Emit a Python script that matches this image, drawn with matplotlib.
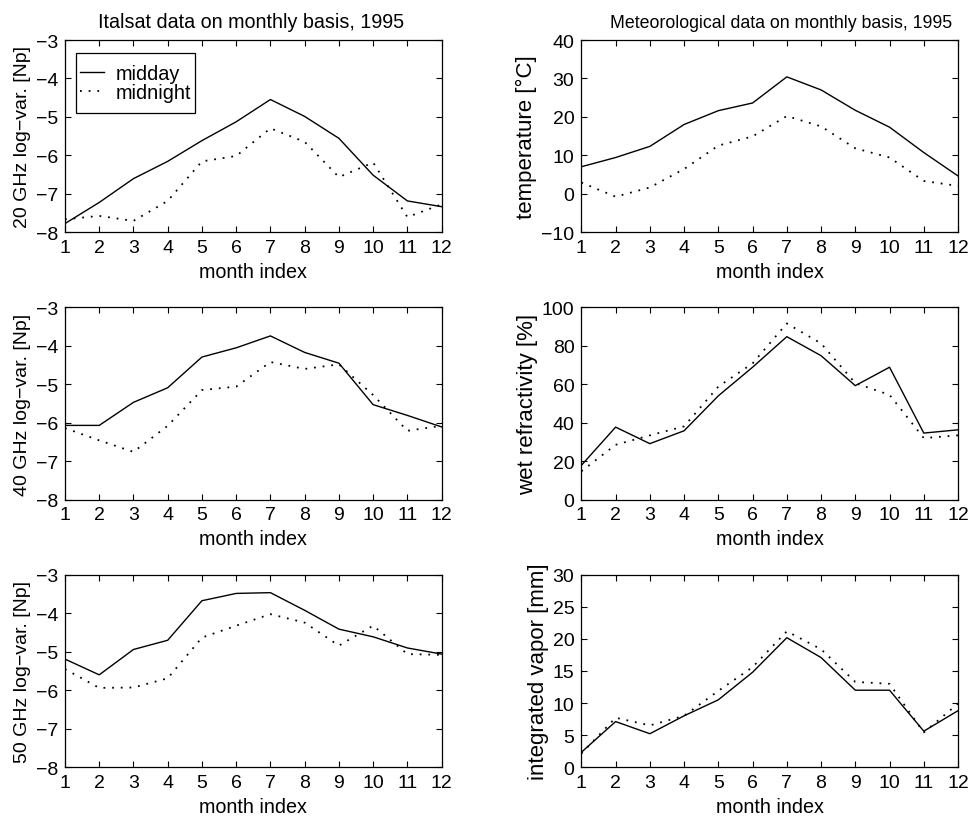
import matplotlib
matplotlib.use("Agg")
import matplotlib.pyplot as plt
from matplotlib.patches import Rectangle

plt.rcParams['font.family'] = ['Liberation Sans', 'DejaVu Sans']

months = list(range(1, 13))

# Italsat log-variance [Np]
ghz20_midday = [-7.78, -7.23, -6.61, -6.16, -5.62, -5.13, -4.55, -4.99, -5.56, -6.52, -7.19, -7.34]
ghz20_midnight = [-7.67, -7.58, -7.71, -7.19, -6.16, -6.02, -5.30, -5.65, -6.57, -6.19, -7.61, -7.28]
ghz40_midday = [-6.07, -6.07, -5.47, -5.09, -4.29, -4.05, -3.74, -4.17, -4.45, -5.53, -5.81, -6.11]
ghz40_midnight = [-6.14, -6.46, -6.76, -6.08, -5.15, -5.06, -4.42, -4.60, -4.48, -5.28, -6.21, -6.08]
ghz50_midday = [-5.19, -5.60, -4.94, -4.70, -3.67, -3.48, -3.46, -3.92, -4.41, -4.61, -4.90, -5.06]
ghz50_midnight = [-5.45, -5.94, -5.93, -5.69, -4.63, -4.32, -4.02, -4.24, -4.84, -4.32, -5.06, -5.08]

# meteorological data
temp_midday = [7.0, 9.4, 12.3, 18.0, 21.6, 23.6, 30.4, 27.0, 21.7, 17.3, 10.7, 4.6]
temp_midnight = [2.9, -0.8, 1.6, 6.4, 12.5, 14.9, 20.2, 17.5, 11.8, 9.4, 3.3, 2.0]
wet_midday = [17.8, 37.7, 29.1, 35.8, 54.0, 68.9, 84.8, 74.9, 59.3, 68.9, 34.6, 36.3]
wet_midnight = [14.7, 28.5, 33.4, 38.1, 58.8, 70.9, 91.7, 81.3, 60.6, 54.5, 32.0, 33.4]
vapor_midday = [2.3, 7.1, 5.2, 8.0, 10.5, 14.8, 20.2, 17.1, 12.0, 12.0, 5.6, 8.8]
vapor_midnight = [2.1, 7.7, 6.5, 8.0, 11.9, 15.6, 21.2, 18.4, 13.3, 13.0, 5.4, 9.9]

left_labels = ['20 GHz log\u2212var. [Np]', '40 GHz log\u2212var. [Np]', '50 GHz log\u2212var. [Np]']
right_labels = ['temperature [\u00b0C]', 'wet refractivity [%]', 'integrated vapor [mm]']
right_ylims = [(-10, 40), (0, 100), (0, 30)]
right_ysteps = [10, 20, 5]

DOT = (0, (1, 3.8))


def style_axes(ax):
    ax.set_xlim(1, 12)
    ax.set_xticks(months)
    ax.tick_params(direction='in', top=True, right=True, length=4, width=0.8,
                   labelsize=14, pad=5)
    for s in ax.spines.values():
        s.set_linewidth(0.9)
    ax.set_xlabel('month index', fontsize=14.2, labelpad=4)


fig, axes = plt.subplots(3, 2, figsize=(9.74, 8.2), dpi=100)
fig.subplots_adjust(left=0.0667, right=0.9836, bottom=0.0634, top=0.95,
                    wspace=0.371, hspace=0.393)

left_data = [(ghz20_midday, ghz20_midnight), (ghz40_midday, ghz40_midnight),
             (ghz50_midday, ghz50_midnight)]
right_data = [(temp_midday, temp_midnight), (wet_midday, wet_midnight),
              (vapor_midday, vapor_midnight)]

for i in range(3):
    ax = axes[i, 0]
    md, mn = left_data[i]
    ax.plot(months, md, color='black', lw=1.0, label='midday')
    ax.plot(months, mn, color='black', lw=1.3, linestyle=DOT, label='midnight')
    style_axes(ax)
    ax.set_ylim(-8, -3)
    ax.set_yticks(range(-8, -2))
    ax.set_ylabel(left_labels[i], fontsize=14, labelpad=3)

    ax = axes[i, 1]
    md, mn = right_data[i]
    ax.plot(months, md, color='black', lw=1.0)
    ax.plot(months, mn, color='black', lw=1.3, linestyle=DOT)
    style_axes(ax)
    lo, hi = right_ylims[i]
    ax.set_ylim(lo, hi)
    ax.set_yticks(range(lo, hi + 1, right_ysteps[i]))
    ax.set_ylabel(right_labels[i], fontsize=16, labelpad=3)

axes[0, 0].set_title('Italsat data on monthly basis, 1995', fontsize=14.2, pad=9, x=0.493)
axes[0, 1].set_title('Meteorological data on monthly basis, 1995', fontsize=12.8, pad=9, x=0.529)

# legend without its own frame; a box with more vertical padding is drawn round it
ax = axes[0, 0]
leg = ax.legend(loc='upper left', bbox_to_anchor=(0.040, 0.875), fontsize=14.3,
                frameon=False, borderpad=0, borderaxespad=0,
                handlelength=1.2, handletextpad=0.6, labelspacing=0.0)
fig.canvas.draw()
bb = leg.get_window_extent().transformed(ax.transAxes.inverted())
padx = 4 / ax.bbox.width
pady = 11 / ax.bbox.height
ax.add_patch(Rectangle((bb.x0 - padx, bb.y0 - pady), bb.width + 2 * padx,
                       bb.height + 2 * pady, transform=ax.transAxes,
                       fill=False, edgecolor='black', lw=0.9, zorder=5))

fig.savefig('out.png', dpi=100)
